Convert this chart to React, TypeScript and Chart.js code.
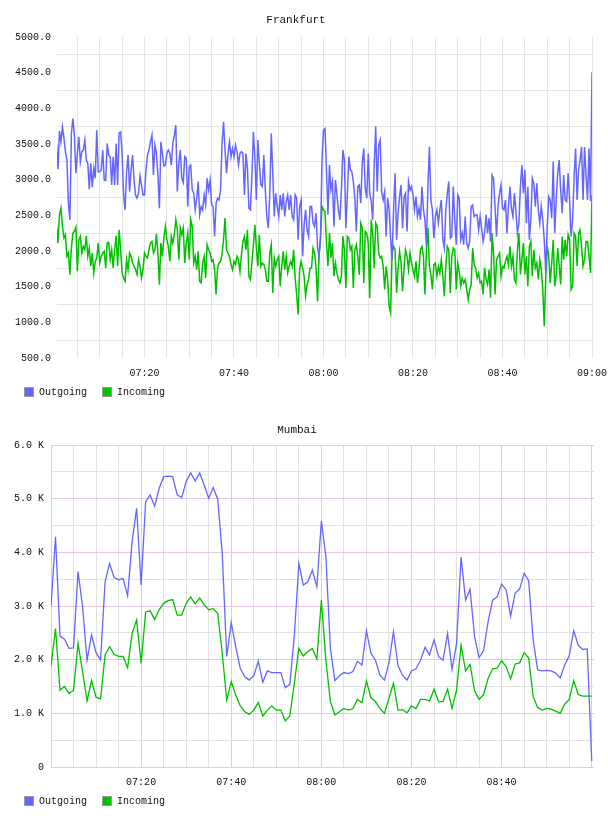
import { useEffect, useRef } from 'react';
import { Chart, registerables } from 'chart.js';

Chart.register(...registerables);

const FONT = "'Liberation Mono', 'DejaVu Sans Mono', monospace";
const OUTGOING_COLOR = '#6666ff';
const INCOMING_COLOR = '#00c000';
const TEXT_COLOR = '#111111';

// ---------------- Frankfurt: one sample every 20 s, 07:00:20 - 09:00:00 ----------------
const FRANKFURT_FIRST_MIN = 1 / 3;
const FRANKFURT_STEP_MIN = 1 / 3;

const frankfurtOutgoing = [
  3508, 3145, 3685, 3530, 3740, 3578, 3392, 3275, 2670, 2437,
  3648, 3857, 3624, 3089, 3368, 3601, 3252, 3392, 3415, 3555,
  3275, 3229, 2865, 3229, 2893, 3159, 3019, 3694, 3112, 3112,
  3136, 3415, 2996, 2987, 3508, 3345, 3322, 2926, 3322, 2926,
  3508, 2926, 3657, 3671, 3368, 2786, 2577, 3112, 3345, 2833,
  3136, 3345, 2996, 2786, 2740, 2810, 3052, 2926, 2786, 2786,
  3136, 3345, 3415, 3531, 3624, 3066, 3485, 3368, 3066, 2600,
  3531, 3368, 3191, 3205, 3368, 3415, 3368, 3205, 3508, 3624,
  3764, 2833, 3229, 3415, 3019, 2959, 3322, 3298, 2623, 3182,
  3205,
  2856, 2810, 2577, 2740, 2973, 2507, 2623, 2577, 2786, 2647,
  3019, 2856, 2996, 2647, 2623, 2205, 2670, 2740, 2716, 2856,
  3508, 3810, 3415, 3089, 3368, 3531, 3322, 3438, 3322, 3485,
  3392, 3205, 3368, 3392, 3368, 2786, 3368, 3159, 2600, 2577,
  3042, 3671, 3322, 2716, 3555, 3229, 2926, 2903, 3345, 2856,
  2484, 2321, 2810, 3648, 3089, 2484, 2810, 2623, 2484, 2786,
  2577, 2810, 2484, 2693, 2786, 2577, 2786, 2484, 2437, 2786,
  2740, 2158, 2623, 2716, 1925, 2367, 2577, 2298, 2205,
  2623, 2623, 2391, 2344, 2530, 2065, 1925, 2158, 3275, 3694,
  3717, 3136, 2507, 3205, 2856, 2973, 2344, 2996, 2786, 2577,
  2437, 2856, 3415, 3275, 2321, 2810, 3322, 3136, 3112, 2973,
  2740, 2274, 2903, 2926, 2670, 3229, 3438, 2879, 2740, 3368,
  2810, 2693, 2437, 3205, 3750, 2833, 3485, 3555, 2833, 2716,
  2833, 2205, 2740, 2577, 2181, 1879, 2600, 3089, 2158, 2530,
  2763, 2926, 2321, 2763, 2810, 2274, 2973, 2856, 2903, 2786,
  2577, 2763, 2484, 2600, 2437, 2903, 2577, 2437, 2065, 2903,
  3461, 2716, 2577, 2181, 2484, 2577, 2391, 2577, 2716, 2158,
  2042, 2577, 2810, 2973, 2181, 2205, 2903, 2437, 2088, 2786,
  2739, 2158, 2251, 2088, 2483, 2111, 2041, 2134, 2623, 2646,
  2483, 2506, 2506, 2297, 2483, 2320, 2134, 2251, 2506, 2251,
  2460, 2134, 3064, 3018, 2623, 2204, 2623, 2809, 2925, 2599,
  2576, 2716, 2251, 2623, 2902, 2599, 2483, 2809, 2553, 2251,
  2390, 2902, 3204, 2809, 3134, 2390, 2902, 2158, 2437, 3018,
  2948, 2623, 2948, 2576, 2390, 2623, 2437, 2158, 1692, 2344,
  2762, 2716, 2460, 3250, 2251, 2716, 3088, 3274, 2855, 2530,
  3064, 2716, 2693, 3088, 2716, 2204, 2437, 3041, 3436, 2716,
  3134, 3274, 3459, 2716, 3459, 3064, 2716, 3436, 2700, 4506,
];

const frankfurtIncoming = [
  2367, 2111, 2507, 2600, 2344, 2181, 2228, 1925, 1972, 1669,
  2041, 2250, 2274, 2335, 1716, 2158, 2205, 1972, 2065, 2018,
  2214, 1925, 2041, 1786, 1972, 1692, 1855, 1902, 2111, 1832,
  1925, 1972, 1995, 1763, 2111, 2120, 1879, 2018, 1763,
  2018, 2214, 1786, 2298, 2018, 1692, 1622, 1576, 1879, 1739,
  1972, 1925, 1832, 1786, 1739, 1669, 1879, 1786, 1622, 1739,
  1972, 1925, 1902, 2018, 2111, 2134, 1972, 2018, 2241, 1972,
  1529, 2111, 1925, 2181, 2344, 2158, 2065, 1855, 2205, 2111,
  2228, 2437, 2298, 1879, 2321, 2228, 2321, 1832, 2111, 2250,
  1879, 2437, 2344,
  1832, 1925, 1739, 1995, 1576, 1553, 1832, 1925, 1622,
  2088, 2018, 1972, 1855, 1879, 1739, 1390, 1762, 1832, 1855,
  1949, 2158, 2461, 2018, 1972, 1925, 1809, 1739, 1855, 1809,
  1925, 1879, 1716, 1949, 2135, 2205, 2018, 2298, 1646, 1599,
  1832, 2088, 2367, 2042, 1786, 2228, 1786, 1832, 1809,
  1739, 1576, 1576, 1972, 2088, 1413, 1902, 1786, 1879, 1925,
  1506, 1786, 1995, 1739, 1925, 1692, 1786, 1855, 1786,
  2018, 1622, 1390, 1111, 1739, 1855, 1762, 1646, 1367, 1530,
  1599, 1762, 1762, 2042, 1972, 1762, 1297, 1925, 2205, 2623,
  2577,
  2554, 2111, 1786, 2250, 1902, 2111, 1646, 1832, 1692, 1599,
  1553, 1646, 2205, 2018, 1483, 2205, 2181, 2018,
  2065, 1483, 2018, 2088, 1925, 1669, 2391, 2321,
  1553, 2274, 2251, 2111, 1343, 2437, 2251, 1762,
  2391, 2344, 1972, 1902, 1925, 1786, 1460, 1786,
  1599, 1227, 1134, 1972, 2065, 2018, 1413, 1762, 1995, 1832,
  1437, 1762, 2018, 1925, 1739, 1972, 1832, 1739,
  1646, 1855, 1553, 1739, 2018, 2065, 1925, 1390, 2018, 2321,
  1786, 1669, 1460, 1809, 1832, 1646, 1786, 1692, 1879, 1646,
  1367, 1786, 2065, 2018, 1413, 1925, 2042, 2018, 1460, 1832,
  1716, 1507, 1623, 1553, 1600, 1460, 1320, 1460, 1530, 2041,
  1809, 1763, 1623, 1693, 1553, 1576, 1390, 1763,
  1600, 1530, 1739, 1344, 2251, 1972, 1390, 1879, 1925, 1972,
  1646, 1786, 1763, 1856, 1925, 1809, 2065, 1786,
  1925, 1600, 1553, 2018, 2251, 1670, 1879, 2111,
  1670, 1925, 1507, 2065, 2134, 1646, 2018, 1763, 1832,
  1600, 1879, 1739, 1460, 949, 1646, 2065, 1925, 1553,
  1832, 2158, 1507, 1646, 2041, 1786, 1530, 2204, 1879,
  2158, 1925, 2228, 2158, 1460, 1507, 2251, 2204, 1786,
  2251, 2297, 2065, 1786, 1879, 2134, 2134, 1925, 1693,
  2785,
];

const FRANKFURT_Y_MIN = 500;
const FRANKFURT_Y_MAX = 5000;
const FRANKFURT_X_MIN = 0.45;
const FRANKFURT_X_MAX = 120;
const FRANKFURT_X_LABELS = ['07:20', '07:40', '08:00', '08:20', '08:40', '09:00'];

// ---------------- Mumbai: one sample per minute, 07:00 - 09:00 ----------------
const MUMBAI_FIRST_MIN = 0;
const MUMBAI_STEP_MIN = 1;

const mumbaiOutgoing = [
  2990, 4290, 2440, 2380, 2210, 2220, 3640, 3000, 1990, 2460,
  2130, 1990, 3450, 3790, 3530, 3490, 3510, 3190, 4200, 4820,
  3390, 4940, 5070, 4860, 5190, 5410, 5420, 5410, 5070, 5020,
  5320, 5480, 5330, 5480, 5250, 5010, 5210, 4990, 3980, 2060,
  2690, 2240, 1840, 1680, 1620, 1700, 1970, 1580, 1790, 1760,
  1760, 1760, 1480, 1540, 2450, 3790, 3390, 3450, 3670, 3360,
  4590, 3920, 2210, 1610, 1700, 1760, 1740, 1780, 1970, 1900,
  2540, 2120, 1990, 1710, 1620, 1940, 2520, 1890, 1710, 1620,
  1790, 1830, 1990, 2230, 2090, 2370, 2060, 1990, 2490, 1820,
  2300, 3910, 3110, 3310, 2430, 2040, 2170, 2710, 3110, 3170,
  3410, 3300, 2810, 3240, 3320, 3610, 3470, 2370, 1810, 1790,
  1800, 1790, 1750, 1660, 1900, 2070, 2540, 2270, 2190, 2200,
  110,
];

const mumbaiIncoming = [
  1880, 2580, 1430, 1500, 1370, 1430, 2300, 1780, 1230, 1610,
  1300, 1270, 2090, 2240, 2100, 2060, 2060, 1850, 2490, 2740,
  1930, 2890, 2910, 2750, 2930, 3050, 3100, 3120, 2830, 2830,
  3050, 3170, 3040, 3150, 3020, 2930, 2950, 2860, 2120, 1250,
  1590, 1340, 1140, 1030, 980, 1060, 1200, 950, 1060, 1140,
  1060, 1060, 860, 950, 1560, 2210, 2070, 2150, 2210, 2010,
  3110, 1990, 1220, 970, 1030, 1090, 1060, 1090, 1260, 1200,
  1600, 1290, 1220, 1090, 1000, 1280, 1560, 1060, 1070, 1010,
  1140, 1090, 1260, 1260, 1230, 1450, 1220, 1220, 1450, 1090,
  1430, 2270, 1790, 1910, 1420, 1260, 1350, 1650, 1830, 1840,
  1980, 1870, 1640, 1920, 1940, 2130, 2030, 1310, 1110, 1060,
  1090, 1080, 1040, 1000, 1170, 1260, 1610, 1350, 1320, 1320,
  1320,
];

const MUMBAI_Y_MIN = 0;
const MUMBAI_Y_MAX = 6000;
const MUMBAI_X_MIN = 0;
const MUMBAI_X_MAX = 120.5;
const MUMBAI_X_LABELS = ['07:20', '07:40', '08:00', '08:20', '08:40'];

const SERIES_NAMES = ['Outgoing', 'Incoming'];

// ---------------- helpers ----------------
function clockLabel(minutesAfterSeven: number): string {
  const total = 7 * 60 + Math.round(minutesAfterSeven);
  const h = Math.floor(total / 60);
  const m = total % 60;
  return `${String(h).padStart(2, '0')}:${String(m).padStart(2, '0')}`;
}

function toPoints(values: number[], first: number, step: number) {
  return values.map((y, i) => ({ x: first + i * step, y }));
}

// Legend drawn under the x axis: a framed colour box and the series name.
const bottomLegend = {
  id: 'bottomLegend',
  afterDraw(chart: any) {
    const { ctx, chartArea } = chart;
    const boxSize = 10;
    const top = chartArea.bottom + 29;
    ctx.save();
    ctx.font = `10px ${FONT}`;
    ctx.textBaseline = 'middle';
    ctx.textAlign = 'left';
    let x = 24;
    chart.data.datasets.forEach((ds: any) => {
      ctx.fillStyle = ds.borderColor;
      ctx.fillRect(x, top, boxSize, boxSize);
      ctx.strokeStyle = '#9a9a9a';
      ctx.lineWidth = 1;
      ctx.strokeRect(x + 0.5, top + 0.5, boxSize - 1, boxSize - 1);
      ctx.fillStyle = TEXT_COLOR;
      ctx.fillText(ds.label, x + boxSize + 5, top + boxSize / 2 + 0.5);
      x += boxSize + 5 + ctx.measureText(ds.label).width + 15;
    });
    ctx.restore();
  },
};

interface PanelSpec {
  title: string;
  width: number;
  height: number;
  titlePad: { top: number; bottom: number };
  bottomPad: number;
  rightPad: number;
  yAxisWidth: number;
  yLabelPad: number;
  lineWidth: number;
  outgoing: { x: number; y: number }[];
  incoming: { x: number; y: number }[];
  xMin: number;
  xMax: number;
  yMin: number;
  yMax: number;
  yStep: number;
  xLabels: string[];
  yLabel: (v: number) => string;
  xGrid: (v: number) => string;
  yGrid: (v: number) => string;
}

function ChartPanel({ spec }: { spec: PanelSpec }) {
  const ref = useRef<HTMLCanvasElement | null>(null);

  useEffect(() => {
    if (!ref.current) return;
    const chart = new Chart(ref.current, {
      type: 'line',
      data: {
        datasets: [
          {
            label: SERIES_NAMES[0],
            data: spec.outgoing,
            borderColor: OUTGOING_COLOR,
            backgroundColor: OUTGOING_COLOR,
            borderWidth: spec.lineWidth,
            pointRadius: 0,
            tension: 0,
            fill: false,
          },
          {
            label: SERIES_NAMES[1],
            data: spec.incoming,
            borderColor: INCOMING_COLOR,
            backgroundColor: INCOMING_COLOR,
            borderWidth: spec.lineWidth,
            pointRadius: 0,
            tension: 0,
            fill: false,
          },
        ],
      },
      options: {
        responsive: false,
        animation: false,
        events: [],
        layout: { padding: { left: 0, top: 0, right: spec.rightPad, bottom: spec.bottomPad } },
        plugins: {
          legend: { display: false },
          tooltip: { enabled: false },
          title: {
            display: true,
            text: spec.title,
            color: TEXT_COLOR,
            font: { family: FONT, size: 11, weight: 'normal', lineHeight: 1.2 },
            padding: spec.titlePad,
          },
        },
        scales: {
          x: {
            type: 'linear',
            min: spec.xMin,
            max: spec.xMax,
            border: { display: false },
            grid: {
              drawTicks: false,
              lineWidth: 1,
              color: (c: any) => spec.xGrid(c.tick ? c.tick.value : 0),
            },
            ticks: {
              stepSize: 5,
              includeBounds: false,
              autoSkip: false,
              maxRotation: 0,
              padding: 9,
              color: TEXT_COLOR,
              font: { family: FONT, size: 10 },
              callback: (v: any) => {
                const s = clockLabel(Number(v));
                return spec.xLabels.includes(s) ? s : '';
              },
            },
            afterFit: (scale: any) => {
              scale.height = 22;
              scale.paddingRight = 0;
              scale.paddingLeft = 0;
            },
          },
          y: {
            type: 'linear',
            min: spec.yMin,
            max: spec.yMax,
            border: { display: false },
            grid: {
              drawTicks: false,
              lineWidth: 1,
              color: (c: any) => spec.yGrid(c.tick ? c.tick.value : 0),
            },
            ticks: {
              stepSize: spec.yStep,
              autoSkip: false,
              padding: spec.yLabelPad,
              color: TEXT_COLOR,
              font: { family: FONT, size: 10 },
              callback: (v: any) => spec.yLabel(Number(v)),
            },
            afterFit: (scale: any) => {
              scale.width = spec.yAxisWidth;
            },
          },
        },
      },
      plugins: [bottomLegend],
    } as any);
    return () => chart.destroy();
  }, [spec]);

  return (
    <canvas
      ref={ref}
      width={spec.width}
      height={spec.height}
      style={{ display: 'block', width: spec.width, height: spec.height }}
    />
  );
}

const FRANKFURT_GRID = '#e4e4e4';
const MUMBAI_MAJOR_GRID = '#e2c8e2';
const MUMBAI_MINOR_GRID = '#e2e2e2';

const frankfurtSpec: PanelSpec = {
  title: 'Frankfurt',
  width: 608,
  height: 405,
  titlePad: { top: 13.4, bottom: 10.4 },
  bottomPad: 25,
  rightPad: 16,
  yAxisWidth: 57,
  yLabelPad: 6,
  lineWidth: 1.5,
  outgoing: toPoints(frankfurtOutgoing, FRANKFURT_FIRST_MIN, FRANKFURT_STEP_MIN),
  incoming: toPoints(frankfurtIncoming, FRANKFURT_FIRST_MIN, FRANKFURT_STEP_MIN),
  xMin: FRANKFURT_X_MIN,
  xMax: FRANKFURT_X_MAX,
  yMin: FRANKFURT_Y_MIN,
  yMax: FRANKFURT_Y_MAX,
  yStep: 250,
  xLabels: FRANKFURT_X_LABELS,
  yLabel: (v) => (v % 500 === 0 ? v.toFixed(1) : ''),
  xGrid: () => FRANKFURT_GRID,
  yGrid: (v) => (v % 500 === 0 ? 'rgba(0,0,0,0)' : FRANKFURT_GRID),
};

const mumbaiSpec: PanelSpec = {
  title: 'Mumbai',
  width: 608,
  height: 411,
  titlePad: { top: 18.4, bottom: 8.4 },
  bottomPad: 27,
  rightPad: 14,
  yAxisWidth: 51,
  yLabelPad: 7,
  lineWidth: 1.3,
  outgoing: toPoints(mumbaiOutgoing, MUMBAI_FIRST_MIN, MUMBAI_STEP_MIN),
  incoming: toPoints(mumbaiIncoming, MUMBAI_FIRST_MIN, MUMBAI_STEP_MIN),
  xMin: MUMBAI_X_MIN,
  xMax: MUMBAI_X_MAX,
  yMin: MUMBAI_Y_MIN,
  yMax: MUMBAI_Y_MAX,
  yStep: 500,
  xLabels: MUMBAI_X_LABELS,
  yLabel: (v) => (v % 1000 !== 0 ? '' : v === 0 ? '0' : `${(v / 1000).toFixed(1)} K`),
  xGrid: (v) => (Math.round(v) % 20 === 0 ? MUMBAI_MAJOR_GRID : MUMBAI_MINOR_GRID),
  yGrid: (v) => (v % 1000 === 0 ? MUMBAI_MAJOR_GRID : MUMBAI_MINOR_GRID),
};

export default function App() {
  return (
    <div style={{ position: 'absolute', left: 0, top: 0, width: 608, height: 816, background: '#fff' }}>
      <ChartPanel spec={frankfurtSpec} />
      <ChartPanel spec={mumbaiSpec} />
    </div>
  );
}
